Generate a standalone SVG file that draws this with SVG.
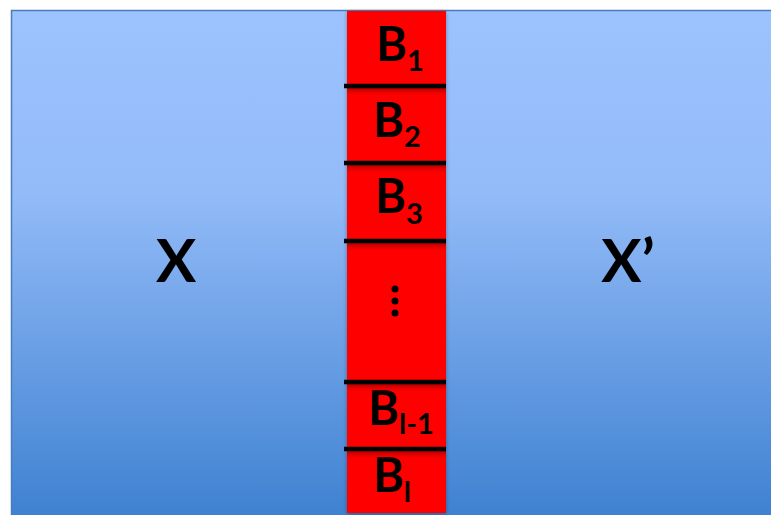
<svg xmlns="http://www.w3.org/2000/svg" width="771" height="515" viewBox="0 0 771 515">
<defs>
<linearGradient id="bg" x1="0" y1="0" x2="0" y2="1">
<stop offset="0" stop-color="#9DC3FE"/>
<stop offset="0.35" stop-color="#93BBF8"/>
<stop offset="1" stop-color="#3B7FCF"/>
</linearGradient>
<linearGradient id="sh" x1="0" y1="0" x2="0" y2="1">
<stop offset="0" stop-color="#8B0000" stop-opacity="0.7"/>
<stop offset="1" stop-color="#FF0000" stop-opacity="0"/>
</linearGradient>
<filter id="ds" x="-10%" y="-2%" width="120%" height="104%">
<feGaussianBlur in="SourceAlpha" stdDeviation="2"/>
<feOffset dx="0" dy="1"/>
<feComponentTransfer><feFuncA type="linear" slope="0.35"/></feComponentTransfer>
<feMerge><feMergeNode/><feMergeNode in="SourceGraphic"/></feMerge>
</filter>
</defs>
<style>
.t{font-family:Lato,"Open Sans","Liberation Sans",sans-serif;font-weight:bold;fill:#000;text-anchor:middle}
.b{font-size:47px}
.s{font-size:29px}
.big{font-size:60px}
.sep{stroke:#000;stroke-width:4.5}
.dot{fill:#000}
</style>
<g id="left">
<rect x="11.5" y="10.5" width="780" height="520" fill="url(#bg)" stroke="#4A7EBB" stroke-width="1.5"/>
<text class="t big" x="176" y="282">X</text>
</g>
<g id="right">
<text class="t big" x="628" y="282">X’</text>
</g>
<g id="column">
<rect x="347" y="11" width="99" height="502" fill="#FF0000" filter="url(#ds)"/>
</g>
<g id="B1"><text class="t b" x="400" y="61">B<tspan class="s" dy="10">1</tspan></text></g>
<g id="B2"><text class="t b" x="397" y="137">B<tspan class="s" dy="10">2</tspan></text></g>
<g id="B3"><text class="t b" x="399" y="213">B<tspan class="s" dy="11">3</tspan></text></g>
<g id="dots">
<circle class="dot" cx="395" cy="289" r="3.5"/>
<circle class="dot" cx="395" cy="301" r="3.5"/>
<circle class="dot" cx="395" cy="313" r="3.5"/>
</g>
<g id="Bl1"><text class="t b" x="401" y="425">B<tspan class="s" dy="9">l-1</tspan></text></g>
<g id="Bl"><text class="t b" x="392" y="492">B<tspan class="s" dy="10">l</tspan></text></g>
<g id="connectors">
<rect x="347" y="88" width="99" height="9" fill="url(#sh)"/>
<rect x="347" y="165" width="99" height="9" fill="url(#sh)"/>
<rect x="347" y="243" width="99" height="9" fill="url(#sh)"/>
<rect x="347" y="384" width="99" height="9" fill="url(#sh)"/>
<rect x="347" y="451" width="99" height="9" fill="url(#sh)"/>
<line class="sep" x1="344" y1="86" x2="446" y2="86"/>
<line class="sep" x1="344" y1="163" x2="446" y2="163"/>
<line class="sep" x1="344" y1="241" x2="446" y2="241"/>
<line class="sep" x1="344" y1="382" x2="446" y2="382"/>
<line class="sep" x1="344" y1="449" x2="446" y2="449"/>
</g>
</svg>
